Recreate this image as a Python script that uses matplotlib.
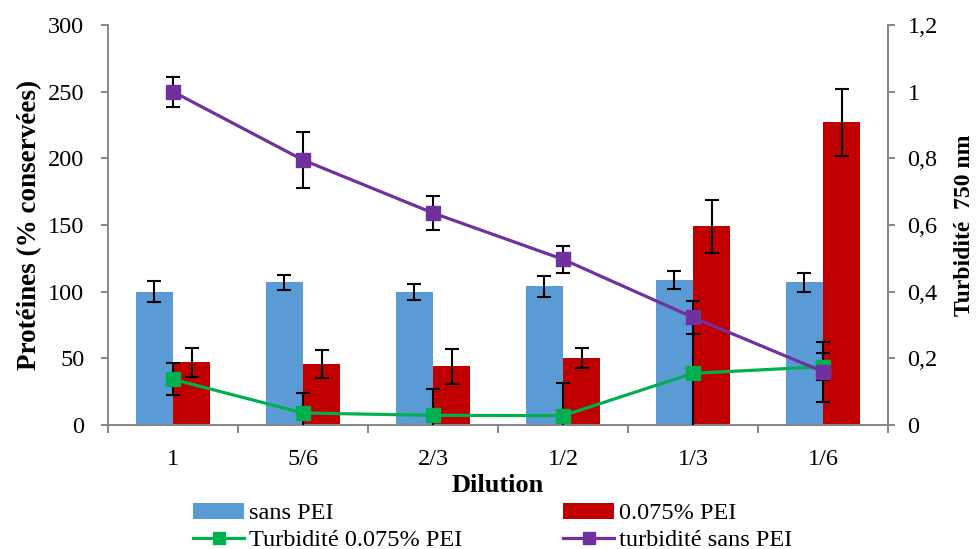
import matplotlib
matplotlib.use("Agg")
import matplotlib.pyplot as plt
import numpy as np
from matplotlib.ticker import FuncFormatter
from matplotlib.lines import Line2D

plt.rcParams['font.family'] = ['Liberation Serif', 'DejaVu Serif']

categories = ["1", "5/6", "2/3", "1/2", "1/3", "1/6"]
prot_sans = [100, 107, 100, 104, 108.5, 107]
prot_sans_err = [8, 5.5, 6, 8, 6.7, 7]
prot_pei = [47, 45.5, 44, 50, 149, 227]
prot_pei_err = [11, 10.6, 13, 7.5, 20, 25]
turb_pei = [0.137, 0.036, 0.029, 0.028, 0.155, 0.175]
turb_pei_err = [0.048, 0.06, 0.078, 0.097, 0.174, 0.04]
turb_sans = [1.0, 0.795, 0.636, 0.497, 0.323, 0.16]
turb_sans_err = [0.045, 0.083, 0.052, 0.041, 0.05, 0.09]

blue = "#5B9BD5"
red = "#C00000"
green = "#00B050"
purple = "#7030A0"
grey = "#868686"

TICK_FS = 17.5
fig = plt.figure(figsize=(9.76, 5.49), dpi=100)
ax = fig.add_axes([108/976, 1-425/549, 780/976, 400/549])
x = np.arange(len(categories))
w = 0.285
ekw = dict(ecolor="black", elinewidth=1.5, capsize=5.2, capthick=1.5)
b1 = ax.bar(x - w/2, prot_sans, w, color=blue, yerr=prot_sans_err, error_kw=ekw, label="sans PEI")
b2 = ax.bar(x + w/2, prot_pei, w, color=red, yerr=prot_pei_err, error_kw=ekw, label="0.075% PEI")
ax.set_xlim(-0.5, len(categories) - 0.5)
ax.set_ylim(0, 300)
ax.set_yticks(np.arange(0, 301, 50))
ax.set_xticks(x)
ax.set_xticklabels(categories)
ax.set_xticks(np.arange(-0.5, len(categories), 1), minor=True)
ax.tick_params(axis='x', which='major', length=0, labelsize=TICK_FS, pad=17)
ax.tick_params(axis='x', which='minor', length=6, color=grey, width=1.4, direction='out')
ax.tick_params(axis='y', length=5, color=grey, width=1.4, labelsize=TICK_FS, pad=12)
ax.spines['top'].set_visible(False)
for s in ['left', 'bottom', 'right']:
    ax.spines[s].set_color(grey)
    ax.spines[s].set_linewidth(1.4)
ax.set_ylabel("Protéines (% conservées)", fontsize=19.5, fontweight='bold', labelpad=4)
ax.set_xlabel("Dilution", fontsize=19, fontweight='bold', labelpad=3)

ax2 = ax.twinx()
ax2.set_ylim(0, 1.2)
ax2.set_yticks(np.arange(0, 1.21, 0.2))
ax2.yaxis.set_major_formatter(FuncFormatter(lambda v, p: ("%g" % round(v, 1)).replace(".", ",")))
ax2.tick_params(axis='y', length=5, color=grey, width=1.4, labelsize=TICK_FS, pad=9)
for s in ['top', 'left', 'bottom']:
    ax2.spines[s].set_visible(False)
ax2.spines['right'].set_color(grey)
ax2.spines['right'].set_linewidth(1.4)
ax2.set_ylabel("Turbidité  750 nm", fontsize=17, fontweight='bold', labelpad=12)

ax2.errorbar(x, turb_pei, yerr=turb_pei_err, color=green, lw=2.3, marker='s', ms=9.5,
             ecolor="black", elinewidth=1.5, capsize=5.2, capthick=1.5)
ax2.errorbar(x, turb_sans, yerr=turb_sans_err, color=purple, lw=2.3, marker='s', ms=9.5,
             ecolor="black", elinewidth=1.5, capsize=5.2, capthick=1.5)

h_green = Line2D([], [], color=green, lw=2.3, marker='s', ms=8)
h_purple = Line2D([], [], color=purple, lw=2.3, marker='s', ms=8)
LEG_FS = 17.5
common = dict(frameon=False, loc='upper left', borderpad=0, borderaxespad=0,
              fontsize=LEG_FS, handlelength=2.1, handleheight=0.62, handletextpad=0.2,
              labelspacing=0.2)
leg1 = fig.legend([b1, h_green], ["sans PEI", "Turbidité 0.075% PEI"],
                  bbox_to_anchor=(193/976, 1-503/549), **common)
leg2 = fig.legend([b2, h_purple], ["0.075% PEI", "turbidité sans PEI"],
                  bbox_to_anchor=(563/976, 1-503/549), **common)
fig.savefig("out.png", dpi=100)
